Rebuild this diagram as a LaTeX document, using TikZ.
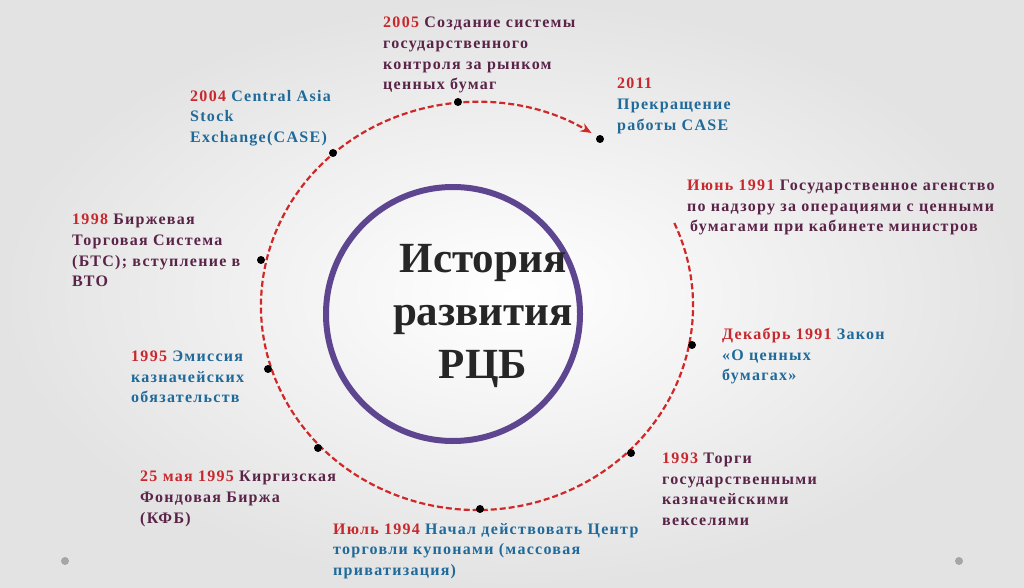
\documentclass[tikz,border=0pt]{standalone}
\usepackage{fontspec}
\setmainfont{Liberation Serif}
\newfontfamily\labfont{Liberation Serif}[LetterSpace=8]
\usetikzlibrary{arrows.meta}
\definecolor{yr}{HTML}{C8282D}
\definecolor{pu}{HTML}{5A2348}
\definecolor{bl}{HTML}{1F6A9A}
\definecolor{ring}{HTML}{5E4590}
\definecolor{arc}{HTML}{D02828}
\tikzset{
 lab/.style={anchor=north west,inner sep=0,align=left,font=\labfont\bfseries\fontsize{16}{20.6}\selectfont},
 ev/.style={circle,fill=black,inner sep=0,minimum size=8pt},
 gd/.style={circle,fill=gray!70,inner sep=0,minimum size=8pt}
}
\begin{document}
\begin{tikzpicture}[x=1pt,y=-1pt]
\shade[inner color=white,outer color=gray!22] (0,0) rectangle (1024,588);
\useasboundingbox (0,0) rectangle (1024,588);
\node[gd] (g1) at (65,561) {};
\node[gd] (g2) at (959,561) {};
% dashed arc
\draw[arc,line width=2.2pt,dash pattern=on 6pt off 3pt,-{Stealth[length=11pt,width=9pt]}]
  (477,306) ++(24:216 and -204) arc[start angle=24,end angle=-302,x radius=216,y radius=-204];
\node[ev] (p2011) at (600,139) {};
\node[ev] (p2005) at (458,102) {};
\node[ev] (p2004) at (333,153) {};
\node[ev] (p1998) at (261,260) {};
\node[ev] (p1995) at (268,369) {};
\node[ev] (p25) at (318,448) {};
\node[ev] (p1994) at (480,509) {};
\node[ev] (p1993) at (631,453) {};
\node[ev] (pdec) at (692,345) {};
% inner ring
\draw[ring,line width=6pt] (453,314) circle[radius=127];
\node[align=center,font=\bfseries\fontsize{43}{53}\selectfont,text=black!85] (title) at (483,316) {История\\развития\\РЦБ};
% labels
\node[lab] (t2005) at (383,17) {\textcolor{yr}{2005} \textcolor{pu}{Создание системы}\\\textcolor{pu}{государственного}\\\textcolor{pu}{контроля за рынком}\\\textcolor{pu}{ценных бумаг}};
\node[lab,text=bl] (t2011) at (617,78) {\textcolor{yr}{2011}\\Прекращение\\работы CASE};
\node[lab,text=bl] (t2004) at (190,90) {\textcolor{yr}{2004} Central Asia\\Stock\\Exchange(CASE)};
\node[lab,text=pu] (tjun) at (687,180) {\textcolor{yr}{Июнь 1991} Государственное агенство\\по надзору за операциями с ценными\\\hspace*{3pt}бумагами при кабинете министров};
\node[lab,text=pu] (t1998) at (72,214) {\textcolor{yr}{1998} Биржевая\\Торговая Система\\(БТС); вступление в\\ВТО};
\node[lab,text=bl] (tdec) at (722,328) {\textcolor{yr}{Декабрь 1991} Закон\\«О ценных\\бумагах»};
\node[lab,text=bl] (t1995) at (131,351) {\textcolor{yr}{1995} Эмиссия\\казначейских\\обязательств};
\node[lab,text=pu] (t1993) at (662,453) {\textcolor{yr}{1993} Торги\\государственными\\казначейскими\\векселями};
\node[lab,text=pu] (t25) at (140,471) {\textcolor{yr}{25 мая 1995} Киргизская\\Фондовая Биржа\\(КФБ)};
\node[lab,text=bl] (t1994) at (333,523) {\textcolor{yr}{Июль 1994} Начал действовать Центр\\торговли купонами (массовая\\приватизация)};
\end{tikzpicture}
\end{document}
